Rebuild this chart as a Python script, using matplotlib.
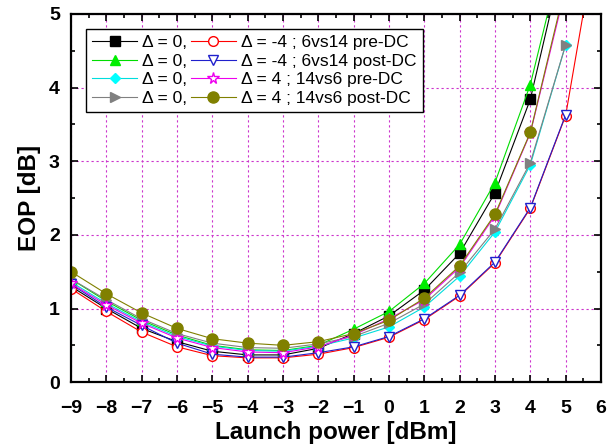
import numpy as np
from matplotlib import pyplot as plt
from matplotlib.ticker import MultipleLocator

# launch power grid [dBm]
power = [-9, -8, -7, -6, -5, -4, -3, -2, -1, 0, 1, 2, 3, 4, 5]
power_ext = power + [6]

# EOP [dB]
eop_black = [1.30, 1.00, 0.73, 0.55, 0.42, 0.37, 0.37, 0.46, 0.66, 0.90, 1.25, 1.75, 2.57, 3.84, 5.90]
eop_green = [1.40, 1.10, 0.84, 0.64, 0.50, 0.44, 0.43, 0.50, 0.72, 0.96, 1.34, 1.87, 2.71, 4.04, 6.00]
eop_cyan = [1.36, 1.07, 0.82, 0.62, 0.49, 0.43, 0.42, 0.49, 0.60, 0.75, 1.02, 1.44, 2.04, 2.95, 4.58]
eop_gray = [1.40, 1.12, 0.86, 0.66, 0.53, 0.47, 0.46, 0.52, 0.62, 0.80, 1.06, 1.49, 2.08, 2.98, 4.58]
eop_red = [1.27, 0.96, 0.68, 0.48, 0.36, 0.33, 0.33, 0.38, 0.47, 0.61, 0.85, 1.17, 1.62, 2.36, 3.62, 6.40]
eop_blue = [1.33, 1.02, 0.77, 0.53, 0.38, 0.34, 0.34, 0.40, 0.48, 0.62, 0.86, 1.18, 1.63, 2.37, 3.63]
eop_magenta = [1.34, 1.05, 0.80, 0.60, 0.47, 0.41, 0.40, 0.48, 0.64, 0.86, 1.12, 1.56, 2.26, 3.38, 5.35]
eop_olive = [1.50, 1.20, 0.94, 0.73, 0.59, 0.53, 0.50, 0.55, 0.66, 0.84, 1.14, 1.58, 2.28, 3.39, 5.40]

labels_left = ['Δ = 0,'] * 4
labels_right = ['Δ = -4 ; 6vs14 pre-DC', 'Δ = -4 ; 6vs14 post-DC',
                'Δ = 4 ; 14vs6 pre-DC', 'Δ = 4 ; 14vs6 post-DC']

plt.rcParams['font.family'] = ['Liberation Sans', 'DejaVu Sans']

fig = plt.figure(figsize=(6.12, 4.47), dpi=100)
ax = fig.add_axes([0.116, 0.145, 0.866, 0.824])

ms = 7
lw = 0.8
h_black, = ax.plot(power, eop_black, '-s', color='black', mfc='black', mec='black', ms=ms - 0.5, lw=lw)
h_green, = ax.plot(power, eop_green, '-^', color='#00dd00', mfc='#00ee00', mec='#00ee00', ms=ms, lw=lw)
h_cyan, = ax.plot(power, eop_cyan, '-D', color='#00dddd', mfc='#00ffff', mec='#00ffff', ms=ms - 1.5, lw=lw)
h_gray, = ax.plot(power, eop_gray, '->', color='gray', mfc='gray', mec='gray', ms=ms, lw=lw)
h_red, = ax.plot(power_ext, eop_red, '-o', color='red', mfc='white', mec='red', ms=ms, lw=lw)
h_blue, = ax.plot(power, eop_blue, '-v', color='#2020cc', mfc='white', mec='#2020cc', ms=ms + 0.5, lw=lw)
h_mag, = ax.plot(power, eop_magenta, '-*', color='#ee00ee', mfc='white', mec='#ee00ee', ms=ms + 1.5, lw=lw)
h_olive, = ax.plot(power, eop_olive, '-o', color='#808000', mfc='#808000', mec='#808000', ms=ms + 1, lw=lw)

ax.set_xlim(-9, 6)
ax.set_ylim(0, 5)
ax.xaxis.set_major_locator(MultipleLocator(1))
ax.xaxis.set_minor_locator(MultipleLocator(0.5))
ax.yaxis.set_major_locator(MultipleLocator(1))
ax.yaxis.set_minor_locator(MultipleLocator(0.5))
ax.tick_params(which='both', direction='in', top=True, right=True, width=1.2)
ax.tick_params(which='major', length=5, labelsize=14)
ax.tick_params(axis='x', which='major', pad=13)
ax.tick_params(axis='y', which='major', pad=8)
ax.tick_params(which='minor', length=3)
for lab in ax.get_xticklabels() + ax.get_yticklabels():
    lab.set_fontweight('bold')
for sp in ax.spines.values():
    sp.set_linewidth(1.6)

ax.grid(True, which='major', color='#cc33cc', linestyle=(0, (2, 2.5)), linewidth=0.8)
ax.set_axisbelow(True)

ax.set_xlabel('Launch power [dBm]', fontsize=17.5, fontweight='bold', labelpad=3)
ax.set_ylabel('EOP [dB]', fontsize=17.5, fontweight='bold', labelpad=6)

handles = [h_black, h_green, h_cyan, h_gray, h_red, h_blue, h_mag, h_olive]
leg = ax.legend(handles, labels_left + labels_right, ncol=2, loc='upper left',
                bbox_to_anchor=(0.012, 0.983), fontsize=12.5, frameon=True, fancybox=False,
                edgecolor='black', framealpha=1, handlelength=2.6, handletextpad=0.3,
                columnspacing=0.2, labelspacing=0.2, borderpad=0.35)
leg.get_frame().set_linewidth(1.0)

plt.savefig('out.png', dpi=100)
plt.close()
